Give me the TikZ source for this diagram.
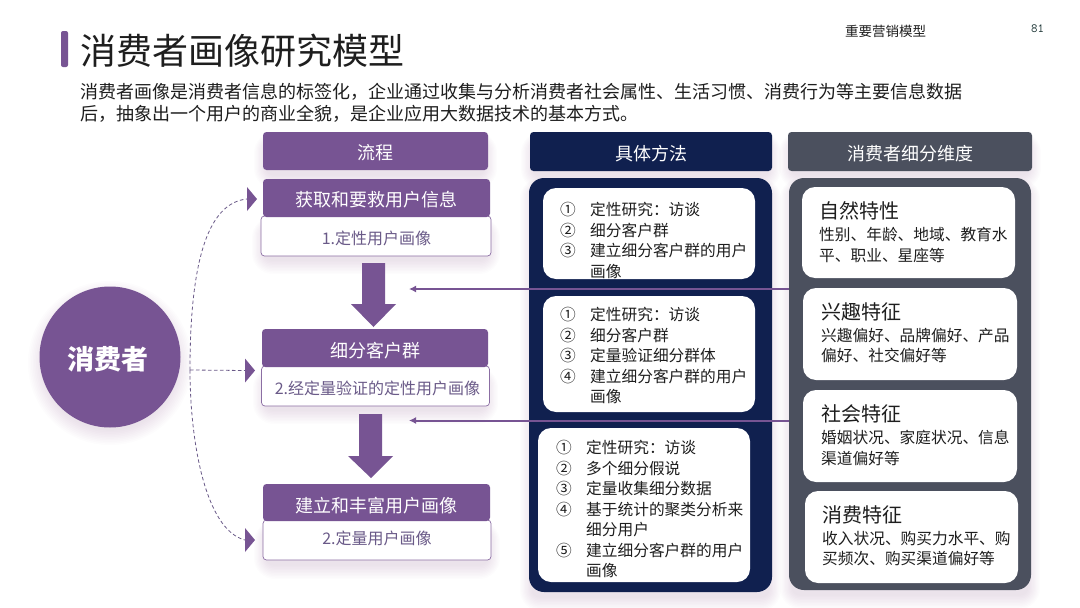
\documentclass[tikz,border=0pt]{standalone}
\usepackage{fontspec}
\setmainfont{Noto Sans CJK SC}
\usetikzlibrary{arrows.meta}
\definecolor{purp}{HTML}{775493}
\definecolor{navy}{HTML}{10204F}
\definecolor{slate}{HTML}{4B505E}
\definecolor{softtext}{HTML}{6A5A88}
\definecolor{ink}{HTML}{1E1E1E}
\newcommand{\fs}[2]{\fontsize{#1}{#2}\selectfont}
\newcommand{\softshadow}[4]{%
  \foreach \i in {1,...,10}{%
    \fill[purp!75!black,opacity=.013,rounded corners={6pt+\i*1.5pt}]
      ({#1+4-\i*1.3},{#2+10-\i*1.0}) rectangle ({#3-4+\i*1.3},{#4+4+\i*1.5});}}
\tikzset{
  base/.style={anchor=north west,inner sep=0pt,outer sep=0pt,align=center},
  header/.style={base,rounded corners=3.5pt,text=white,font=\fs{18}{22},text height=17.6pt,text depth=0pt},
  purphead/.style={header,fill=purp},
  navyhead/.style={header,fill=navy},
  slatehead/.style={header,fill=slate},
  subbox/.style={base,rounded corners=3.5pt,fill=white,draw=purp!85,line width=.7pt,text=softtext,font=\fs{16}{20},text height=16.2pt,text depth=0pt},
  panel/.style={base,rounded corners=15pt},
  card/.style={base,rounded corners=13pt,fill=white},
  nums/.style={anchor=north west,inner sep=0pt,align=left,text=ink,font=\fs{15.7}{20.55}},
  cardtitle/.style={anchor=base west,inner sep=0pt,text=ink,font=\fs{20}{24}},
  cardbody/.style={anchor=north west,inner sep=0pt,align=left,text=ink,font=\fs{15.7}{20.5}},
  dashline/.style={draw=softtext,line width=.8pt,dash pattern=on 3.5pt off 2.5pt},
  feed/.style={draw=purp,line width=2pt,-{Latex[length=7pt,width=7pt]}},
  tri/.style={fill=purp},
  blockarrow/.style={fill=purp}
}
\begin{document}
\begin{tikzpicture}[x=1pt,y=-1pt]
\useasboundingbox (0,0) rectangle (1080,608);
\fill[white] (0,0) rectangle (1080,608);

% top
\fill[purp,rounded corners=2pt] (61,31) rectangle (68,67);
\node[anchor=west,inner sep=0pt,text=ink,font=\fs{36}{40}] (title) at (80,51) {消费者画像研究模型};
\node[anchor=west,inner sep=0pt,text=ink,font=\fs{13.5}{16}] (sect) at (845,31) {重要营销模型};
\node[anchor=west,inner sep=0pt,text=ink!80!teal,font=\ttfamily\fs{12.5}{14}] (page) at (1031,29) {81};
\node[anchor=north west,inner sep=0pt,align=left,text=ink,font=\fs{18}{21.8}] (intro) at (80,83.3)
 {消费者画像是消费者信息的标签化，企业通过收集与分析消费者社会属性、生活习惯、消费行为等主要信息数据\\后，抽象出一个用户的商业全貌，是企业应用大数据技术的基本方式。};

% shadows
\foreach \i in {1,...,10}{\fill[purp!75!black,opacity=.013] (110,{363}) circle ({66+\i*1.6});}
\softshadow{263}{132}{488}{170}
\softshadow{261}{217}{491}{255}
\softshadow{262}{367}{489}{405}
\softshadow{263}{521}{491}{560}
\softshadow{530}{132}{772}{171}
\softshadow{788}{132}{1032}{170}
\softshadow{529}{178}{772}{592}
\softshadow{789}{178}{1031}{590}

% left circle
\node[circle,fill=purp,inner sep=0pt,minimum size=141pt] (cons) at (110,357) {};
\node[inner sep=0pt,text=white,font=\bfseries\fs{27}{30}] (conslabel) at (107.5,359.5) {消费者};

% process column
\node[purphead,minimum width=225pt,minimum height=38pt] (hflow) at (263,132) {流程};
\node[subbox,minimum width=230pt,minimum height=40pt] (s1) at (261,216) {\hspace{1pt}1.定性用户画像};
\node[purphead,minimum width=227pt,minimum height=38pt] (p1) at (263,179) {获取和要救用户信息};
\node[subbox,minimum width=228pt,minimum height=40pt] (s2) at (261.5,366) {\hspace{4pt}2.经定量验证的定性用户画像};
\node[purphead,minimum width=226pt,minimum height=38pt,text height=19.5pt] (p2) at (262,329) {细分客户群};
\node[subbox,minimum width=228pt,minimum height=40pt,text height=8.2pt] (s3) at (263,520) {2.定量用户画像};
\node[purphead,minimum width=227pt,minimum height=37pt,text height=20pt] (p3) at (263,484) {建立和丰富用户画像};

% block arrows
\fill[blockarrow] (362,263) -- (385,263) -- (385,304) -- (396,304) -- (373.5,327) -- (351,304) -- (362,304) -- cycle;
\fill[blockarrow] (359,414) -- (382,414) -- (382,456) -- (393,456) -- (371,478) -- (348,456) -- (359,456) -- cycle;

% method column
\node[navyhead,minimum width=242pt,minimum height=39pt] (hmeth) at (530,132) {具体方法};
\node[panel,fill=navy,minimum width=243pt,minimum height=414pt] (pmeth) at (529,178) {};
\node[card,minimum width=212pt,minimum height=91pt] (c1) at (543,188) {};
\node[card,minimum width=212pt,minimum height=116pt] (c2) at (543,296) {};
\node[card,minimum width=212pt,minimum height=154pt] (c3) at (538,428) {};
\node[nums] (n1) at (560,202) {①\\②\\③};
\node[nums] (t1) at (590,202) {定性研究：访谈\\细分客户群\\建立细分客户群的用户\\画像};
\node[nums] (n2) at (560,307) {①\\②\\③\\④};
\node[nums] (t2) at (590,307) {定性研究：访谈\\细分客户群\\定量验证细分群体\\建立细分客户群的用户\\画像};
\node[nums] (n3) at (556,440) {①\\②\\③\\④\\\ \\⑤};
\node[nums] (t3) at (586,440) {定性研究：访谈\\多个细分假说\\定量收集细分数据\\基于统计的聚类分析来\\细分用户\\建立细分客户群的用户\\画像};

% dimension column
\node[slatehead,minimum width=244pt,minimum height=39pt] (hdim) at (788,132) {消费者细分维度};
\node[panel,fill=slate,minimum width=242pt,minimum height=412pt] (pdim) at (789,178) {};
\node[card,minimum width=213pt,minimum height=91pt] (d1) at (802,187) {};
\node[card,minimum width=214pt,minimum height=92pt] (d2) at (803,288) {};
\node[card,minimum width=214pt,minimum height=92pt] (d3) at (803,390) {};
\node[card,minimum width=213pt,minimum height=92pt] (d4) at (805,491) {};
\node[cardtitle] (dt1) at (819,218) {自然特性};
\node[cardbody] (db1) at (819,227) {性别、年龄、地域、教育水\\平、职业、星座等};
\node[cardtitle] (dt2) at (821,319) {兴趣特征};
\node[cardbody] (db2) at (821,328) {兴趣偏好、品牌偏好、产品\\偏好、社交偏好等};
\node[cardtitle] (dt3) at (821,421) {社会特征};
\node[cardbody] (db3) at (821,430) {婚姻状况、家庭状况、信息\\渠道偏好等};
\node[cardtitle] (dt4) at (822,522) {消费特征};
\node[cardbody] (db4) at (822,531) {收入状况、购买力水平、购\\买频次、购买渠道偏好等};

% connectors
\coordinate (j) at (190,370);
\coordinate (tipA) at (247,199);
\coordinate (tipB) at (245,370.5);
\coordinate (tipC) at (245,540);
\draw[dashline] (j) .. controls (190,270) and (205,203) .. (tipA);
\draw[dashline] (j) -- (tipB);
\draw[dashline] (j) .. controls (190,440) and (205,530) .. (tipC);
\fill[tri] (tipA) ++(0,-12) -- ++(10,12) -- ++(-10,12) -- cycle;
\fill[tri] (tipB) ++(0,-12) -- ++(10,12) -- ++(-10,12) -- cycle;
\fill[tri] (tipC) ++(0,-12) -- ++(10,12) -- ++(-10,12) -- cycle;
\coordinate (endA) at (409,289);
\coordinate (endB) at (409,420.5);
\draw[feed] (pdim.west |- endA) -- (endA);
\draw[feed] (pdim.west |- endB) -- (endB);
\end{tikzpicture}
\end{document}
